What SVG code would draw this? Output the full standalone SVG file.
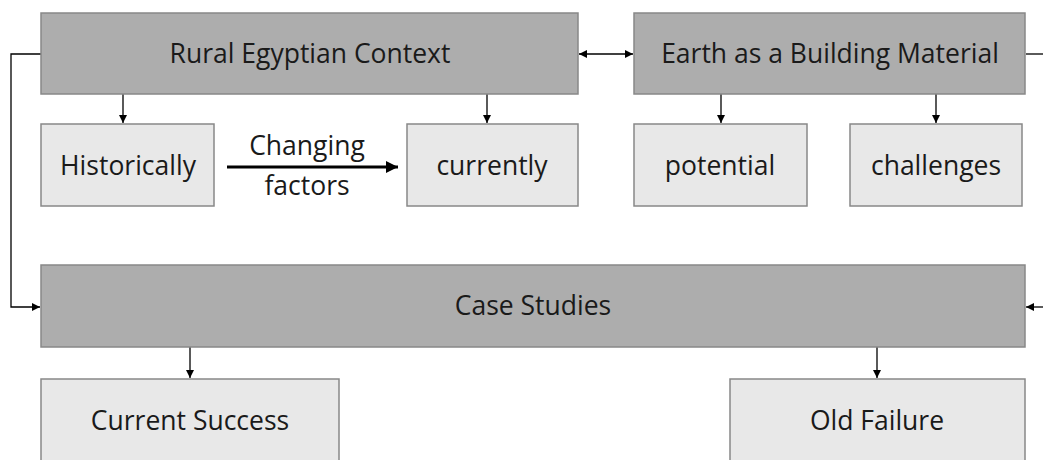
<svg xmlns="http://www.w3.org/2000/svg" width="1043" height="460" viewBox="0 0 1043 460">
<defs>
<style>
.dark{fill:#adadad;stroke:#888;stroke-width:1.5}
.light{fill:#e8e8e8;stroke:#888;stroke-width:1.5}
text{font-family:"Open Sans","Liberation Sans",sans-serif;font-size:26.5px;fill:#1a1a1a;text-anchor:middle}
.c{fill:none;stroke:#000;stroke-width:1.3}
</style>
<marker id="ah" viewBox="0 0 10 10" refX="10" refY="5" markerWidth="8" markerHeight="8" markerUnits="userSpaceOnUse" orient="auto-start-reverse"><path d="M0,0 L10,5 L0,10 z" fill="#000"/></marker>
<marker id="ahb" viewBox="0 0 10 10" refX="10" refY="5" markerWidth="4" markerHeight="4" orient="auto"><path d="M0,0 L10,5 L0,10 z" fill="#000"/></marker>
</defs>
<rect width="1043" height="460" fill="#fff"/>
<g id="connectors">
<path class="c" d="M41,54 H11 V307 H40" marker-end="url(#ah)"/>
<path class="c" d="M123,94 V123" marker-end="url(#ah)"/>
<path class="c" d="M487,94 V123" marker-end="url(#ah)"/>
<path class="c" d="M579,54 H633" marker-start="url(#ah)" marker-end="url(#ah)"/>
<path class="c" d="M721,94 V123" marker-end="url(#ah)"/>
<path class="c" d="M936,94 V123" marker-end="url(#ah)"/>
<path class="c" d="M1026,54 H1043"/>
<path class="c" d="M1043,307 H1026" marker-end="url(#ah)"/>
<path class="c" d="M190,347 V378" marker-end="url(#ah)"/>
<path class="c" d="M877,347 V378" marker-end="url(#ah)"/>
<path d="M227,167 H398" fill="none" stroke="#000" stroke-width="3" marker-end="url(#ahb)"/>
<text x="307" y="155">Changing</text>
<text x="307" y="195">factors</text>
</g>
<g id="rural"><rect class="dark" x="41" y="13" width="537" height="81"/><text x="310" y="63">Rural Egyptian Context</text></g>
<g id="earth"><rect class="dark" x="634" y="13" width="391" height="81"/><text x="830" y="63">Earth as a Building Material</text></g>
<g id="historically"><rect class="light" x="41" y="124" width="173" height="82"/><text x="128" y="175">Historically</text></g>
<g id="currently"><rect class="light" x="407" y="124" width="171" height="82"/><text x="492" y="175">currently</text></g>
<g id="potential"><rect class="light" x="634" y="124" width="173" height="82"/><text x="720" y="175">potential</text></g>
<g id="challenges"><rect class="light" x="850" y="124" width="172" height="82"/><text x="936" y="175">challenges</text></g>
<g id="case"><rect class="dark" x="41" y="265" width="984" height="82"/><text x="533" y="315">Case Studies</text></g>
<g id="success"><rect class="light" x="41" y="379" width="298" height="100"/><text x="190" y="430">Current Success</text></g>
<g id="failure"><rect class="light" x="730" y="379" width="295" height="100"/><text x="877" y="430">Old Failure</text></g>
</svg>
